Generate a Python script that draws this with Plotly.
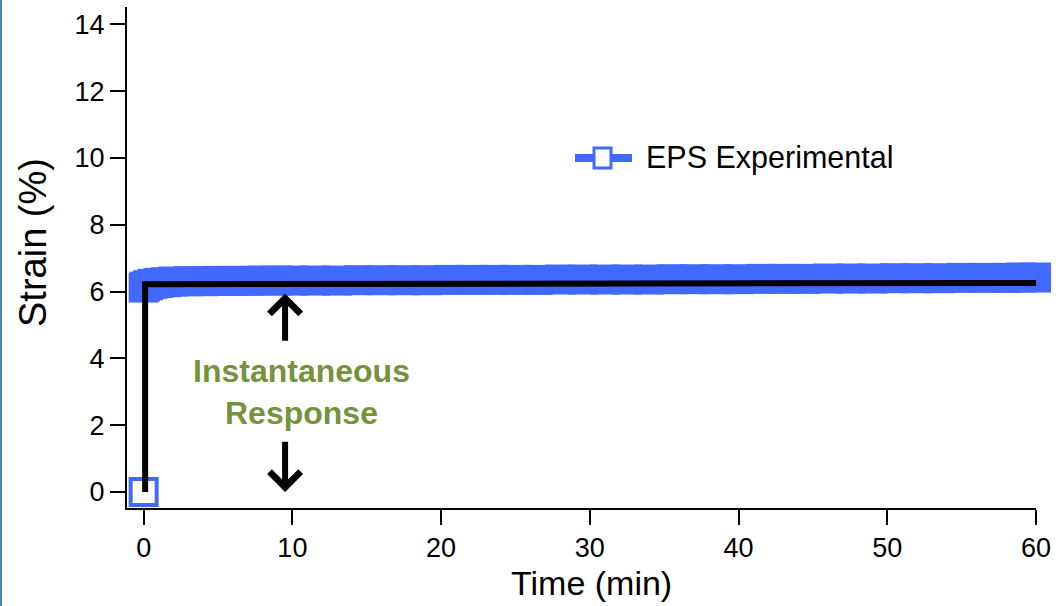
import plotly.graph_objects as go

# ---- data ----
band_time = [0.0, 0.1, 0.3, 0.6, 1.0, 1.5, 2, 3, 4, 5, 6, 7, 8, 9, 10,
             11.5, 13, 14.5, 16, 17.5, 19, 20.5, 22, 23.5, 25, 26.5, 28, 29.5,
             31, 32.5, 34, 35.5, 37, 38.5, 40, 41.5, 43, 44.5, 46, 47.5, 49,
             50.5, 52, 53.5, 55, 56.5, 58, 59, 60]
band_strain = [6.12, 6.15, 6.19, 6.23, 6.26, 6.28, 6.30, 6.31, 6.31, 6.32, 6.32, 6.32, 6.33, 6.33, 6.33,
               6.33, 6.33, 6.34, 6.34, 6.34, 6.34, 6.35, 6.35, 6.35, 6.35, 6.35, 6.36, 6.36,
               6.36, 6.36, 6.36, 6.37, 6.37, 6.37, 6.37, 6.38, 6.38, 6.38, 6.39, 6.39, 6.39,
               6.40, 6.40, 6.40, 6.41, 6.41, 6.41, 6.42, 6.42]
start_time = [0]
start_strain = [0]
model_time = [0.1, 0.1, 60]
model_strain = [0, 6.22, 6.26]

x_ticks = [0, 10, 20, 30, 40, 50, 60]
y_ticks = [0, 2, 4, 6, 8, 10, 12, 14]

BLUE = "#4169FF"
GREEN = "#76923C"
FONT = "Liberation Sans, Arial, sans-serif"

W, H = 1063, 606
ML, MR, MT, MB = 127, 27, 7, 98
PW, PH = W - ML - MR, H - MT - MB


def px(xp):
    return (xp - ML) / PW


def py(yp):
    return (H - MB - yp) / PH


fig = go.Figure()
fig.add_trace(go.Scatter(
    x=band_time, y=band_strain, mode="markers", name="EPS Experimental",
    marker=dict(symbol="square", size=30, color=BLUE, line=dict(width=0)),
    cliponaxis=False, showlegend=False, hoverinfo="x+y"))
fig.add_trace(go.Scatter(
    x=start_time, y=start_strain, mode="markers", showlegend=False,
    marker=dict(symbol="square", size=26, color="white", line=dict(color=BLUE, width=4)),
    cliponaxis=False))
fig.add_trace(go.Scatter(
    x=model_time, y=model_strain, mode="lines", showlegend=False,
    line=dict(color="black", width=6), cliponaxis=False))

axis_common = dict(showline=True, linecolor="black", linewidth=2, ticks="outside",
                   ticklen=15, tickwidth=2, tickcolor="black", showgrid=False,
                   zeroline=False, tickfont=dict(family=FONT, size=27, color="black"))
fig.update_xaxes(range=[-1.12, 60], tickvals=x_ticks, ticktext=[str(v) for v in x_ticks],
                 **axis_common)
fig.update_yaxes(range=[-0.48, 14.52], tickvals=y_ticks, ticktext=[str(v) for v in y_ticks],
                 **axis_common)

annotations = [
    dict(text="<b>Instantaneous<br>Response</b>", x=10.62, y=2.99, xref="x", yref="y",
         showarrow=False, font=dict(family=FONT, size=32, color=GREEN),
         xanchor="center", yanchor="middle"),
    dict(text="", x=9.51, y=5.94, ax=9.51, ay=4.48, xref="x", yref="y", axref="x", ayref="y",
         showarrow=True, arrowhead=4, arrowsize=1.0, arrowwidth=6, arrowcolor="black"),
    dict(text="", x=9.51, y=0.0, ax=9.51, ay=1.55, xref="x", yref="y", axref="x", ayref="y",
         showarrow=True, arrowhead=4, arrowsize=1.0, arrowwidth=6, arrowcolor="black"),
    dict(text="Time (min)", x=px(591), y=py(583), xref="paper", yref="paper",
         showarrow=False, font=dict(family=FONT, size=34, color="black"),
         xanchor="center", yanchor="middle"),
    dict(text="Strain (%)", x=px(33), y=py(243), xref="paper", yref="paper", textangle=-90,
         showarrow=False, font=dict(family=FONT, size=38, color="black"),
         xanchor="center", yanchor="middle"),
    dict(text="EPS Experimental", x=px(644), y=py(158), xref="paper", yref="paper",
         showarrow=False, font=dict(family=FONT, size=30.5, color="black"),
         xanchor="left", yanchor="middle"),
]

shapes = [
    # legend sample
    dict(type="line", xref="paper", yref="paper", x0=px(575), x1=px(632), y0=py(158), y1=py(158),
         line=dict(color=BLUE, width=8)),
    dict(type="rect", xref="paper", yref="paper", x0=px(594), x1=px(611), y0=py(148), y1=py(168),
         fillcolor="white", line=dict(color=BLUE, width=3)),
    # left page border
    dict(type="rect", xref="paper", yref="paper", x0=px(0), x1=px(2), y0=py(0), y1=py(606),
         fillcolor="#4F81BD", line=dict(width=0)),
]

fig.update_layout(
    width=W, height=H, margin=dict(l=ML, r=MR, t=MT, b=MB),
    paper_bgcolor="white", plot_bgcolor="white",
    annotations=annotations, shapes=shapes, showlegend=False,
    font=dict(family=FONT, color="black"),
)

fig.write_html("out.html")
